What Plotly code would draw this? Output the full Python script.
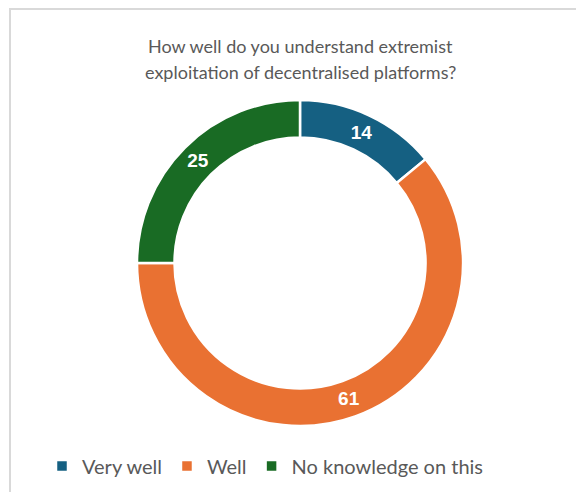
import plotly.graph_objects as go

categories = ["Very well", "Well", "No knowledge on this"]
values = [14, 61, 25]
colors = ["#156082", "#E97132", "#196B24"]
title_lines = ["How well do you understand extremist", "exploitation of decentralised platforms?"]

# page has an 8px body margin; figure coordinates below are page - 8
W, H = 568, 484
cx, cy, R = 292, 255, 163

fig = go.Figure(go.Pie(
    labels=categories,
    values=values,
    hole=0.77,
    sort=False,
    direction="clockwise",
    rotation=0,
    marker=dict(colors=colors, line=dict(color="white", width=2.5)),
    textinfo="value",
    textposition="inside",
    insidetextorientation="horizontal",
    textfont=dict(family="Liberation Sans, Arial", size=19, color="white", weight="bold"),
    domain=dict(x=[(cx - R) / W, (cx + R) / W], y=[1 - (cy + R) / H, 1 - (cy - R) / H]),
    hoverinfo="label+value",
))

title_y = [38, 64]
annotations = [dict(
    text=t, x=292 / W, y=1 - yy / H, xref="paper", yref="paper",
    xanchor="center", yanchor="middle", showarrow=False,
    font=dict(size=18, color="#595959"), align="center",
) for t, yy in zip(title_lines, title_y)]

bx0 = 2 / W
by1 = 1 - 1 / H
border_path = f"M {bx0},-0.2 L {bx0},{by1} L 1.2,{by1}"

fig.update_layout(
    width=W, height=H,
    margin=dict(l=0, r=0, t=0, b=0),
    paper_bgcolor="white",
    font=dict(family="Lato, Open Sans, sans-serif", color="#595959"),
    annotations=annotations,
    legend=dict(
        orientation="h", x=34 / W, y=1 - 458 / H, xanchor="left", yanchor="middle",
        font=dict(size=20, color="#595959"),
        traceorder="normal",
    ),
    shapes=[dict(
        type="path", xref="paper", yref="paper", path=border_path,
        line=dict(color="#D9D9D9", width=2), layer="below",
    )],
)

fig.write_html("out.html")
